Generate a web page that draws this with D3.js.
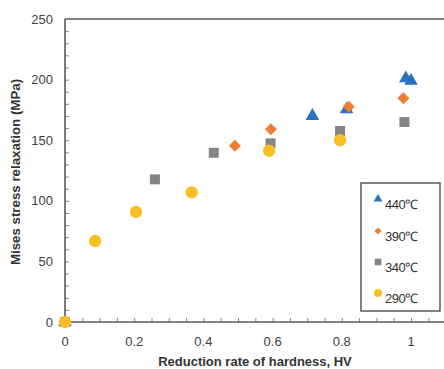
<!DOCTYPE html>
<html>
<head>
<meta charset="utf-8">
<script src="https://cdn.jsdelivr.net/npm/d3@7/dist/d3.min.js"></script>
<style>
  html, body { margin: 0; padding: 0; background: #fff; }
  svg { display: block; font-family: "Liberation Sans", Arial, sans-serif; }
</style>
</head>
<body>
<svg id="chart" width="444" height="369"></svg>
<script>
// Series: reduction rate of hardness (x) vs Mises stress relaxation (y)
const series = ["440℃", "390℃", "340℃", "290℃"];
const colors = ["#2a72c0", "#ed7d31", "#858585", "#fbbf24"];
const shapes = [d3.symbolTriangle, d3.symbolSquare, d3.symbolSquare, d3.symbolCircle];
const rotations = [0, 45, 0, 0];

const x440 = [0, 0.715, 0.814, 0.985, 1.0];
const y440 = [0, 170, 175.5, 201, 199];
const x390 = [0, 0.491, 0.595, 0.82, 0.978];
const y390 = [0, 145.5, 159, 177.6, 184.6];
const x340 = [0, 0.26, 0.43, 0.594, 0.795, 0.981];
const y340 = [0, 117.7, 139.6, 147.4, 157.6, 165];
const x290 = [0, 0.087, 0.205, 0.366, 0.59, 0.795];
const y290 = [0, 66.8, 90.8, 107, 141.3, 150];

const xTicks = [0, 0.2, 0.4, 0.6, 0.8, 1];
const yTicks = [0, 50, 100, 150, 200, 250];

const xs = [x440, x390, x340, x290];
const ys = [y440, y390, y340, y290];

const svg = d3.select("#chart");
const plotLeft = 65, plotTop = 19, plotBottom = 322;

const x = d3.scaleLinear().domain([0, 1]).range([plotLeft, 411]);
const y = d3.scaleLinear().domain([0, 250]).range([plotBottom, plotTop]);
const rightEdge = 460;

const axisColor = "#5a5a5a";

// frame: top border
svg.append("line")
  .attr("x1", plotLeft).attr("x2", rightEdge)
  .attr("y1", plotTop).attr("y2", plotTop)
  .attr("stroke", axisColor).attr("stroke-width", 1.6);

// x axis with minor ticks pointing inward
const xMinor = d3.range(0, 1.11, 0.05);
const xAxis = d3.axisBottom(x).tickValues(xMinor).tickSize(-4).tickFormat("");
const gx = svg.append("g").attr("transform", `translate(0,${plotBottom})`).call(xAxis);
gx.select(".domain").remove();
gx.selectAll(".tick line").attr("stroke", "#8a8a8a").attr("stroke-width", 1);
svg.append("line")
  .attr("x1", plotLeft).attr("x2", rightEdge)
  .attr("y1", plotBottom).attr("y2", plotBottom)
  .attr("stroke", axisColor).attr("stroke-width", 1.6);

svg.append("g").selectAll("text").data(xTicks).join("text")
  .attr("x", d => x(d)).attr("y", plotBottom + 24)
  .attr("text-anchor", "middle")
  .attr("font-size", 13).attr("fill", "#404040")
  .text(d => d3.format("~g")(d));

// y axis with minor ticks
const yMinor = d3.range(0, 251, 10);
const yAxis = d3.axisLeft(y).tickValues(yMinor).tickSize(-4).tickFormat("");
const gy = svg.append("g").attr("transform", `translate(${plotLeft},0)`).call(yAxis);
gy.select(".domain").remove();
gy.selectAll(".tick line").attr("stroke", "#8a8a8a").attr("stroke-width", 1);
svg.append("line")
  .attr("x1", plotLeft).attr("x2", plotLeft)
  .attr("y1", plotTop).attr("y2", plotBottom)
  .attr("stroke", axisColor).attr("stroke-width", 1.6);

svg.append("g").selectAll("text").data(yTicks).join("text")
  .attr("x", plotLeft - 12).attr("y", d => y(d) + 4.5)
  .attr("text-anchor", "end")
  .attr("font-size", 13).attr("fill", "#404040")
  .text(d => d);

// axis titles
svg.append("text")
  .attr("transform", `translate(20,172) rotate(-90)`)
  .attr("text-anchor", "middle")
  .attr("font-size", 13.3).attr("font-weight", "bold").attr("fill", "#333")
  .text("Mises stress relaxation (MPa)");

svg.append("text")
  .attr("x", 255).attr("y", 366)
  .attr("text-anchor", "middle")
  .attr("font-size", 13).attr("font-weight", "bold").attr("fill", "#333")
  .text("Reduction rate of hardness, HV");

// markers
const sizes = [80, 72, 100, 120];
series.forEach((name, i) => {
  const pts = xs[i].map((v, j) => [v, ys[i][j]]);
  svg.append("g").selectAll("path").data(pts).join("path")
    .attr("d", d3.symbol().type(shapes[i]).size(sizes[i]))
    .attr("transform", d => `translate(${x(d[0])},${y(d[1])}) rotate(${rotations[i]})`)
    .attr("fill", colors[i]);
});

// legend
const lg = svg.append("g");
lg.append("rect")
  .attr("x", 361).attr("y", 183).attr("width", 79).attr("height", 128)
  .attr("fill", "#fff").attr("stroke", "#404040").attr("stroke-width", 1.3);
const legendY = [203, 235, 266, 297];
const legendSizes = [34, 26, 44, 50];
series.forEach((name, i) => {
  lg.append("path")
    .attr("d", d3.symbol().type(shapes[i]).size(legendSizes[i]))
    .attr("transform", `translate(378,${legendY[i] - 4}) rotate(${rotations[i]})`)
    .attr("fill", colors[i]);
  lg.append("text")
    .attr("x", 385).attr("y", legendY[i] + 6)
    .attr("font-size", 13).attr("fill", "#333")
    .attr("letter-spacing", -0.5)
    .text(name);
});
</script>
</body>
</html>
